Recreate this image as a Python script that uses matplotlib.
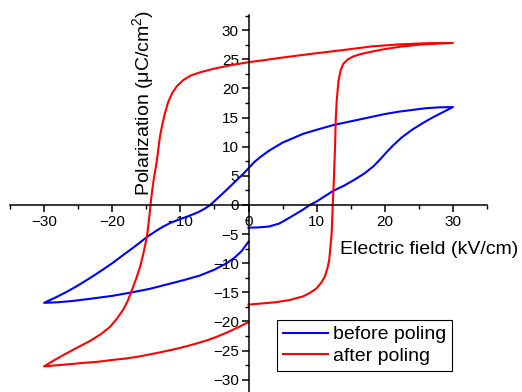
import matplotlib
matplotlib.use("Agg")
import matplotlib.pyplot as plt
from matplotlib.ticker import MultipleLocator

plt.rcParams["font.family"] = ["Liberation Sans", "DejaVu Sans"]
plt.rcParams["mathtext.fontset"] = "custom"
plt.rcParams["mathtext.rm"] = "Liberation Sans"

# before poling: starts at E=0, up to +30, back to -30, back to 0
e_before = [0, 1.5, 3, 4.5, 6, 7, 8, 9, 10, 11.2, 12.4, 14, 15.5, 17, 18.3, 19.3, 20.3, 21.2,
            22.5, 24, 25.5, 27, 28.5, 30,
            28, 26, 24, 22, 20, 18, 16, 14, 12.4, 10, 8, 6, 5, 4, 3, 1.7, 0.8, 0, -0.8,
            -1.7, -2.5, -3.2, -4.5, -5.6, -6.5, -7.5, -9, -10, -11.5, -12.5, -13.5, -14.9,
            -16, -17, -18.4, -20, -21.5, -23.2, -25, -26.5, -28, -30,
            -28, -26, -23.2, -20, -17.1, -14.5, -11.5, -9.5, -7.1, -5, -3.2, -2, -1, 0]
p_before = [-3.9, -3.85, -3.7, -3.2, -2.2, -1.5, -0.8, 0, 0.6, 1.5, 2.4, 3.3, 4.3, 5.4, 6.6, 7.8,
            9.1, 10.2, 11.6, 12.9, 14.0, 15.0, 15.9, 16.8,
            16.75, 16.6, 16.3, 16.0, 15.6, 15.1, 14.6, 14.1, 13.7, 12.9, 12.2, 11.2, 10.7, 10.0,
            9.3, 8.2, 7.3, 6.3, 5.3, 4.3, 3.4, 2.6, 1.2, 0, -0.7, -1.3, -2.0, -2.4, -3.1, -3.7,
            -4.4, -5.5, -6.5, -7.4, -8.6, -10.0, -11.2, -12.5, -13.8, -14.8, -15.7, -16.8,
            -16.7, -16.5, -16.1, -15.6, -15.0, -14.4, -13.5, -12.9, -12.1, -11.1, -10.0, -9.0,
            -7.9, -6.3]

# after poling
e_after = [0, 2, 4, 6.1, 7, 8, 9, 10, 10.7, 11.2, 11.6, 11.85, 12.0, 12.2, 12.3, 12.4, 12.55,
           12.7, 12.8, 12.95, 13.2, 13.5, 13.9, 14.6, 15.4, 16.5, 17.8, 20, 22.2, 25, 27.5, 30,
           26, 22, 18, 14, 9, 5, 2, 0, -2.5, -5, -7, -8.5, -9.6, -10.5, -11.2, -11.8, -12.3,
           -12.7, -13.0, -13.5, -14.0, -14.3, -14.6, -14.9, -15.4, -15.9, -16.5, -17.1, -17.7,
           -18.4, -19.3, -20.3, -21.7, -23.2, -25, -26.6, -28.3, -30,
           -28, -26, -24.2, -22, -20, -18, -16, -13, -11, -9.6, -8, -6, -4.6, -3, -1.5, 0]
p_after = [-17.1, -16.9, -16.7, -16.3, -16.0, -15.7, -15.1, -14.3, -13.3, -12.3, -10.8, -9.4,
           -7.5, -4.9, -2.0, 1.0, 5.0, 10.0, 14.6, 18.0, 21.2, 23.0, 24.2, 25.0, 25.5, 25.9,
           26.25, 26.75, 27.15, 27.5, 27.7, 27.8,
           27.75, 27.55, 27.2, 26.6, 25.9, 25.3, 24.8, 24.5, 24.0, 23.4, 22.8, 22.2, 21.4,
           20.4, 19.2, 17.6, 15.6, 13.5, 11.7, 7.2, 3.7, 0.9, -2.5, -5.4, -8.2, -10.6, -12.7,
           -14.6, -16.4, -18.0, -19.5, -20.9, -22.2, -23.3, -24.4, -25.4, -26.5, -27.7,
           -27.5, -27.3, -27.1, -26.9, -26.6, -26.35, -26.0, -25.3, -24.8, -24.4, -23.9,
           -23.2, -22.6, -21.8, -21.0, -20.1]

fig = plt.figure(figsize=(5.22, 3.92), dpi=100)
ax = fig.add_axes([10 / 522, 0.0, 477 / 522, 377 / 392])

ax.plot(e_before, p_before, color="blue", lw=1.5, label="before poling")
ax.plot(e_after, p_after, color="red", lw=1.5, label="after poling")

ax.set_xlim(-35, 35)
ax.set_ylim(-32.1, 32.6)

# axes cross at the origin
ax.spines["left"].set_position(("data", 0))
ax.spines["bottom"].set_position(("data", 0))
ax.spines["top"].set_visible(False)
ax.spines["right"].set_visible(False)
for s in ["left", "bottom"]:
    ax.spines[s].set_linewidth(1.1)

ax.xaxis.set_minor_locator(MultipleLocator(5))
ax.yaxis.set_minor_locator(MultipleLocator(2.5))
ax.set_xticks([-30, -20, -10, 0, 10, 20, 30])
ax.set_yticks([-30, -25, -20, -15, -10, -5, 0, 5, 10, 15, 20, 25, 30])
ax.tick_params(which="major", direction="out", length=5, width=1.1, labelsize=11, pad=2)
ax.tick_params(which="minor", direction="out", length=3, width=1.0)

fig.text(340 / 522, 1 - 249 / 392, "Electric field (kV/cm)", fontsize=14, ha="left", va="center")
fig.text(144 / 522, 1 - 103 / 392, "Polarization (μC/cm$^{2}$)", fontsize=14, rotation=90,
         ha="center", va="center")

leg = ax.legend(loc="upper left", bbox_to_anchor=(277 / 522, 1 - 320 / 392),
                bbox_transform=fig.transFigure, borderaxespad=0, fontsize=14,
                fancybox=False, framealpha=1, edgecolor="black", handlelength=2.3,
                handletextpad=0.3, labelspacing=0.2, borderpad=0.3)
leg.get_frame().set_linewidth(0.8)

fig.savefig("out.png", dpi=100)
